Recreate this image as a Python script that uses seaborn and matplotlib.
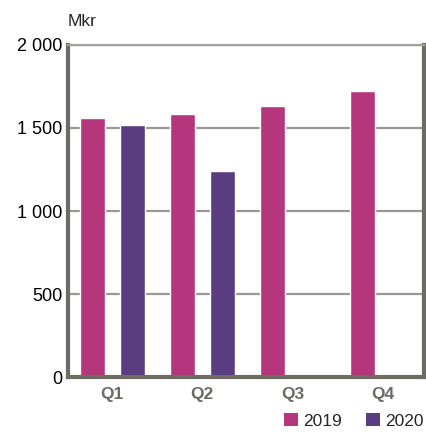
import matplotlib
matplotlib.use('Agg')
import matplotlib.pyplot as plt
import seaborn as sns
import pandas as pd
from matplotlib.ticker import FuncFormatter
from matplotlib.patches import Patch

# Quarterly values (Mkr)
quarters = ['Q1', 'Q2', 'Q3', 'Q4']
values_2019 = [1560, 1584, 1632, 1723]
values_2020 = [1518, 1241, None, None]
years = ['2019', '2020']
colors = ['#b5367d', '#5a3d80']

df = pd.DataFrame({
    'quarter': quarters * 2,
    'year': [years[0]] * 4 + [years[1]] * 4,
    'value': values_2019 + values_2020,
})

sns.set_theme(style='white')
plt.rcParams['font.family'] = ['Liberation Sans', 'DejaVu Sans']

fig = plt.figure(figsize=(4.26, 4.32), dpi=100)
ax = fig.add_axes([0.16, 0.127, 0.835, 0.769])

sns.barplot(data=df, x='quarter', y='value', hue='year', palette=colors,
            width=0.89, gap=0.375, ax=ax, legend=False, saturation=1)

ax.set_ylim(0, 2000)
ax.set_xlim(-0.49, 3.46)
ax.set_yticks([0, 500, 1000, 1500, 2000])
ax.yaxis.set_major_formatter(FuncFormatter(lambda v, p: f'{int(v):,}'.replace(',', ' ')))
ax.grid(axis='y', color='#9a9893', linewidth=1.6)
ax.set_axisbelow(True)

spine_col = '#6e6b63'
for s in ['left', 'bottom', 'right']:
    ax.spines[s].set_color(spine_col)
    ax.spines[s].set_linewidth(3)
ax.spines['top'].set_color('#a3a19c')
ax.spines['top'].set_linewidth(1.6)

ax.set_xlabel('')
ax.set_ylabel('')
ax.tick_params(axis='y', labelsize=13, colors='black', pad=4, length=0)
ax.tick_params(axis='x', labelsize=12.5, colors=spine_col, pad=7, length=0)
for lbl in ax.get_xticklabels():
    lbl.set_fontweight('bold')

fig.text(68 / 426, 1 - 21 / 432, 'Mkr', fontsize=12.5, ha='left', va='center')

handles = [Patch(facecolor=c, edgecolor='none') for c in colors]
fig.legend(handles, years, loc='center right', bbox_to_anchor=(0.998, 1 - 421 / 432),
           ncol=2, frameon=False, fontsize=12.5, handlelength=0.8, handleheight=0.8,
           handletextpad=0.3, columnspacing=1.4, borderaxespad=0, borderpad=0.1)

fig.savefig('out.png', dpi=100)
